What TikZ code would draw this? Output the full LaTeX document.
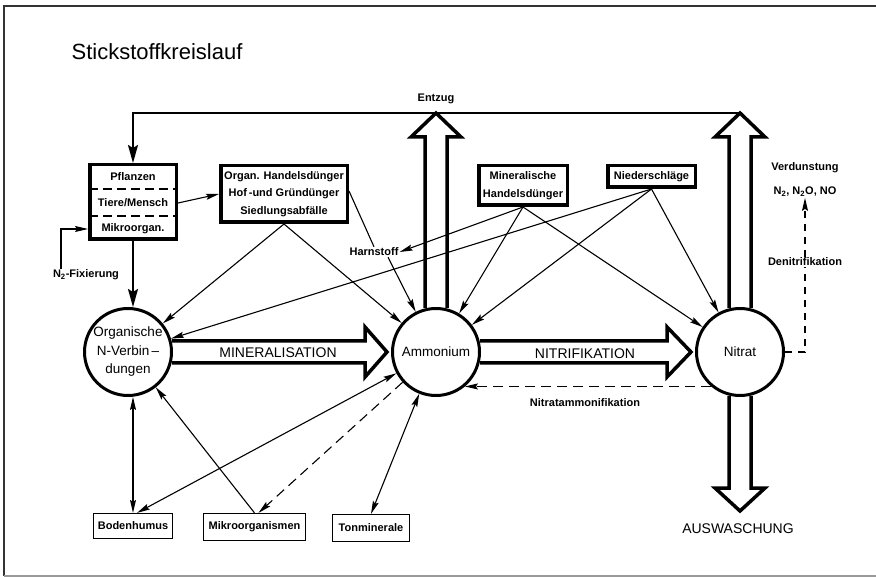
\documentclass[tikz,border=0pt]{standalone}
\usepackage{fontspec}
\setmainfont{Liberation Sans}
\usetikzlibrary{arrows.meta,calc}

\begin{document}
\begin{tikzpicture}[x=1pt,y=1pt,yscale=-1,
  every node/.style={inner sep=1pt, font=\fontsize{11}{17.5}\selectfont\bfseries},
  bigbox/.style={draw, line width=3.5pt, fill=white, align=center, inner sep=0pt},
  smallbox/.style={draw, line width=1.2pt, inner sep=0pt},
  pool/.style={draw, circle, line width=3pt, fill=white, minimum size=87pt, inner sep=0pt, align=center, font=\fontsize{13.5}{18.5}\selectfont},
  caps/.style={font=\fontsize{14}{16}\selectfont},
  blockarr/.style={line width=3.5pt, line join=miter},
  link/.style={line width=1.1pt},
  flow/.style={link, -{Stealth[length=13pt,width=6pt,inset=2pt]}},
  flowboth/.style={link, {Stealth[length=13pt,width=6pt,inset=2pt]}-{Stealth[length=13pt,width=6pt,inset=2pt]}},
  dashflow/.style={flow, dash pattern=on 10pt off 6pt},
  bigflow/.style={line width=2pt, -{Stealth[length=18pt,width=10pt,inset=3pt]}},
  sepline/.style={line width=1.2pt, dash pattern=on 9pt off 5pt}
]
\useasboundingbox (0,0) rectangle (876,577);

%Frame
\draw[line width=1.3pt, black!80] (876,6) -- (4,6) -- (4,576);
\draw[line width=1.2pt, black!40] (4,576) -- (876,576);

%Text: title
\node[font=\fontsize{22}{26}\selectfont] (title) at (157,52) {Stickstoffkreislauf};

%Shape: Circle [pools]
\node[pool] (org) at (128,352) {Organische\\N-Verbin\,--\\dungen};
\node[pool] (amm) at (436,352) {Ammonium};
\node[pool] (nit) at (740,352) {Nitrat};

%Shape: Rectangle [Pflanzen / Tiere / Mikroorgan.]
\node[bigbox, minimum width=86.5pt, minimum height=74.5pt] (pfl) at (133,202) {};
\node (pfla) at (133,177) {Pflanzen};
\node (tier) at (133,203) {Tiere/Mensch};
\node (mikr) at (133,229) {Mikroorgan.};
\draw[sepline] (89,189) -- (177,189);
\draw[sepline] (89,216) -- (177,216);

%Shape: Rectangle [inputs]
\node[bigbox, minimum width=126.5pt, minimum height=56.5pt] (orgd) at (284,194) {Organ. Handelsdünger\\Hof\,-und Gründünger\\Siedlungsabfälle};
\node[bigbox, minimum width=88.5pt, minimum height=39.5pt] (mind) at (523,185.5) {Mineralische\\Handelsdünger};
\node[bigbox, minimum width=87.5pt, minimum height=21.5pt] (nied) at (651.5,176.5) {Niederschläge};

%Shape: Rectangle [soil]
\node[smallbox, minimum width=79pt, minimum height=25pt] (bod) at (133,526) {Bodenhumus};
\node[smallbox, minimum width=102pt, minimum height=27pt] (mik) at (254.5,527) {Mikroorganismen};
\node[smallbox, minimum width=77pt, minimum height=27pt] (ton) at (371,528) {Tonminerale};

%Text: labels
\node (entz) at (436,99) {Entzug};
\node (harn) at (374,252) {Harnstoff};
\node (fix) at (86,275) {N\textsubscript{2}-Fixierung};
\node (verd) at (805,168) {Verdunstung};
\node (gas) at (805,192) {N\textsubscript{2}, N\textsubscript{2}O, NO};
\node (denit) at (805,262) {Denitrifikation};
\node (nam) at (585,403) {Nitratammonifikation};
\node[caps] (minl) at (278,353) {MINERALISATION};
\node[caps] (nitl) at (585,354) {NITRIFIKATION};
\node[caps] (ausw) at (738,529) {AUSWASCHUNG};

\coordinate (atip) at (436,113);
\coordinate (ntip) at (740,113);
\coordinate (wtip) at (740,511);
\coordinate (dcor) at (805,352);

%Shape: Polygon [MINERALISATION]
\draw[blockarr] ($(org.east)+(-1,-11)$) -- (365,341) -- (365,327) -- ($(amm.west)+(-4,0)$) -- (365,377) -- (365,363) -- ($(org.east)+(-1,11)$);
%Shape: Polygon [NITRIFIKATION]
\draw[blockarr] ($(amm.east)+(-1,-11)$) -- (667,341) -- (667,327) -- ($(nit.west)+(-4,0)$) -- (667,377) -- (667,363) -- ($(amm.east)+(-1,11)$);
%Shape: Polygon [Entzug]
\draw[blockarr] ($(amm.north)+(-11,1)$) -- (425,137) -- (411,137) -- (atip) -- (461,137) -- (447,137) -- ($(amm.north)+(11,1)$);
\draw[blockarr] ($(nit.north)+(-11,1)$) -- (729,137) -- (715,137) -- (ntip) -- (765,137) -- (751,137) -- ($(nit.north)+(11,1)$);
%Shape: Polygon [AUSWASCHUNG]
\draw[blockarr] ($(nit.south)+(-11,-1)$) -- (729,488) -- (715,488) -- (wtip) -- (765,488) -- (751,488) -- ($(nit.south)+(11,-1)$);

%Straight Lines
\draw[bigflow] (ntip) -| (pfl.north);
\draw[bigflow] (pfl.south) -- (org.north -| pfl.south);
\draw[flow] (pfl.east |- tier) -- (orgd.west);
\draw[flow] ([xshift=-25pt]fix.north) |- (pfl.west |- mikr);
\draw[flow] (orgd.south) -- (org);
\draw[flow] (orgd.south) -- (amm);
\draw[link] ([yshift=-3pt]orgd.east) -- (harn.north);
\draw[flow] ([xshift=14pt]harn.south) -- (amm);
\draw[flow] (mind.south) -- (harn.east);
\draw[flow] (mind.south) -- (amm);
\draw[flow] (mind.south) -- (nit);
\draw[flow] (nied.south) -- (org);
\draw[flow] (nied.south) -- (amm);
\draw[flow] (nied.south) -- (nit);
\draw[flowboth] (org.south -| bod.north) -- (bod.north);
\draw[flowboth] (amm) -- ([xshift=4pt]bod.north);
\draw[flow] (mik.north) -- (org);
\draw[dashflow] (amm) -- ([xshift=4pt]mik.north);
\draw[flowboth] (ton.north) -- (amm);
\draw[dashflow] (nit.230) -- (amm.310);
\draw[link, dash pattern=on 7pt off 6pt] (nit.east) -- (dcor) -- (denit.south);
\draw[dashflow, dash pattern=on 7pt off 6pt] (denit.north) -- (gas.south);

\end{tikzpicture}
\end{document}
